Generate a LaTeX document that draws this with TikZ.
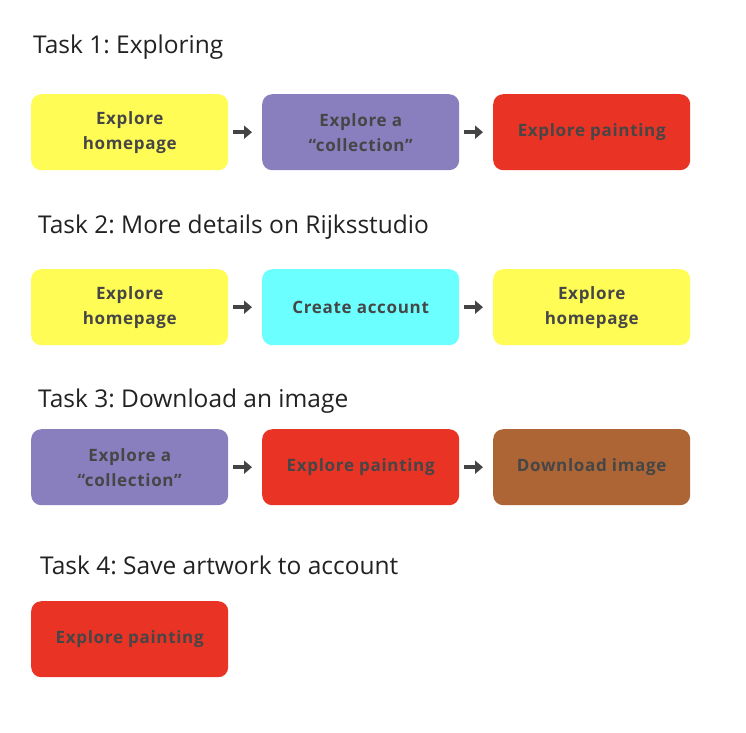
\documentclass[tikz,border=0pt]{standalone}
\usepackage{fontspec}
\setmainfont{Open Sans}
\frenchspacing
\usetikzlibrary{arrows.meta}
\definecolor{cyel}{HTML}{FFFC55}
\definecolor{cpur}{HTML}{8A7FBE}
\definecolor{cred}{HTML}{E83325}
\definecolor{ccya}{HTML}{6CFFFF}
\definecolor{cbro}{HTML}{AD6536}
\definecolor{ctxt}{HTML}{464646}
\definecolor{ctitle}{HTML}{222222}
\definecolor{carrow}{HTML}{444444}
\begin{document}
\begin{tikzpicture}[x=1pt,y=-1pt,
  box/.style={rounded corners=10pt, minimum width=197pt, minimum height=76pt, inner sep=0pt,
    align=center, text=ctxt, font=\fontsize{17}{25}\selectfont\bfseries\addfontfeatures{LetterSpace=4}, anchor=north west},
  title/.style={anchor=west, text=ctitle, font=\fontsize{24.5}{27}\selectfont, inner sep=0pt},
  flow/.style={draw=carrow, line width=3.5pt, -{Triangle[length=8pt,width=13pt]}, shorten <=5pt, shorten >=10pt}]
\useasboundingbox[fill=white] (0,0) rectangle (746,732);
% Task 1
\node[title] (t1) at (33,47) {Task 1: Exploring};
\node[box, fill=cyel] (a1) at (31,94) {Explore\\homepage};
\node[box, fill=cpur] (a2) at (262,94) {Explore a\\“collection”};
\node[box, fill=cred] (a3) at (493,94) {Explore painting};
\draw[flow] (a1) -- (a2);
\draw[flow] (a2) -- (a3);
% Task 2
\node[title] (t2) at (38,227) {Task 2: More details on Rijksstudio};
\node[box, fill=cyel] (b1) at (31,269) {Explore\\homepage};
\node[box, fill=ccya] (b2) at (262,269) {Create account};
\node[box, fill=cyel] (b3) at (493,269) {Explore\\homepage};
\draw[flow] (b1) -- (b2);
\draw[flow] (b2) -- (b3);
% Task 3
\node[title] (t3) at (38,401) {Task 3: Download an image};
\node[box, fill=cpur] (c1) at (31,429) {Explore a\\“collection”};
\node[box, fill=cred] (c2) at (262,429) {Explore painting};
\node[box, fill=cbro] (c3) at (493,429) {Download image};
\draw[flow] (c1) -- (c2);
\draw[flow] (c2) -- (c3);
% Task 4
\node[title] (t4) at (40,565) {Task 4: Save artwork to account};
\node[box, fill=cred] (d1) at (31,601) {Explore painting};
\end{tikzpicture}
\end{document}
